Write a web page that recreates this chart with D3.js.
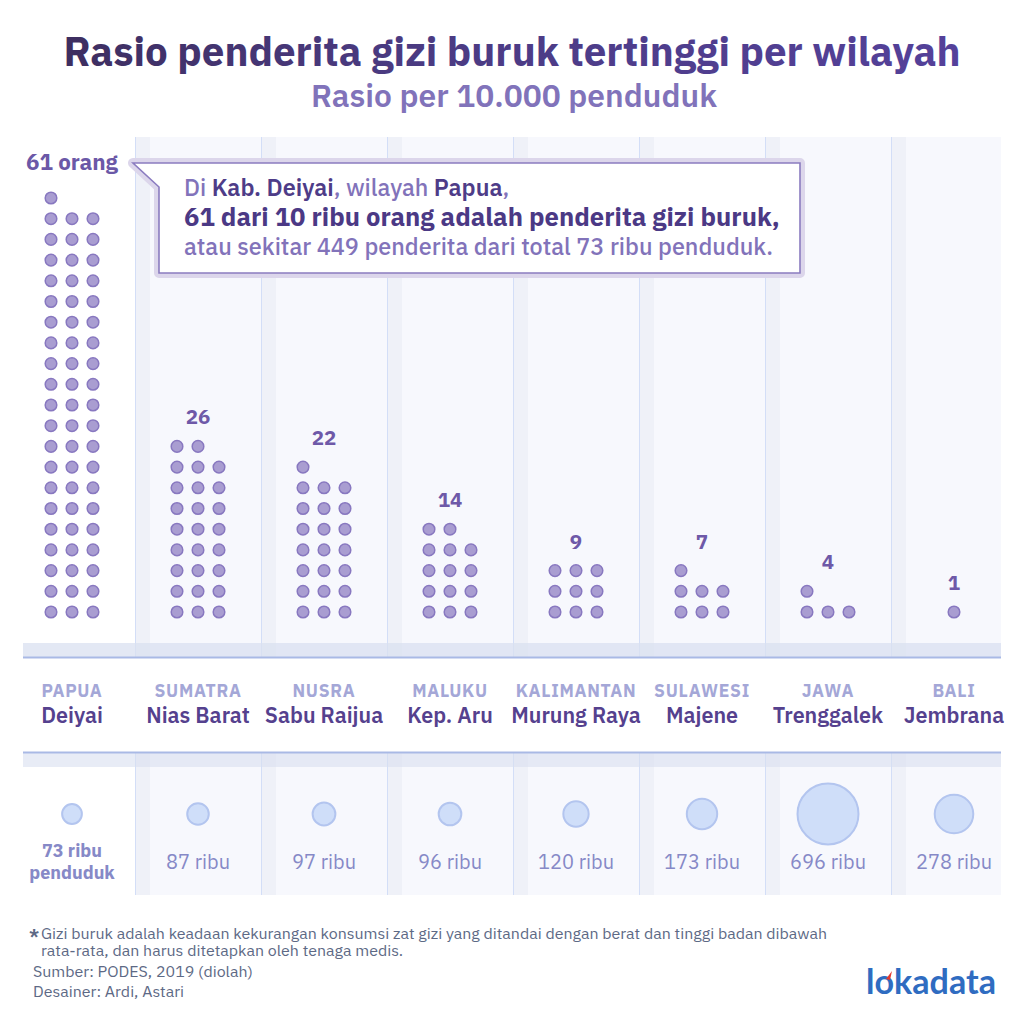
<!DOCTYPE html>
<html><head><meta charset="utf-8">
<script src="https://cdn.jsdelivr.net/npm/d3@7"></script>
<style>body{margin:0;background:#fff}svg{display:block}</style>
</head><body>
<svg id="chart" width="1025" height="1025"></svg>
<script>
// ---- data ----
const regions   = ["PAPUA","SUMATRA","NUSRA","MALUKU","KALIMANTAN","SULAWESI","JAWA","BALI"];
const districts = ["Deiyai","Nias Barat","Sabu Raijua","Kep. Aru","Murung Raya","Majene","Trenggalek","Jembrana"];
const ratioPer10k = [61,26,22,14,9,7,4,1];
const populationRibu = [73,87,97,96,120,173,696,278];
const popLabels = ["73 ribu","87 ribu","97 ribu","96 ribu","120 ribu","173 ribu","696 ribu","278 ribu"];
const titleText = "Rasio penderita gizi buruk tertinggi per wilayah";
const subtitleText = "Rasio per 10.000 penduduk";
const calloutLine1 = [["Di ","l"],["Kab. Deiyai","d"],[", wilayah ","l"],["Papua","d"],[",","l"]];
const calloutLine2 = "61 dari 10 ribu orang adalah penderita gizi buruk,";
const calloutLine3 = "atau sekitar 449 penderita dari total 73 ribu penduduk.";
const footnote = ["Gizi buruk adalah keadaan kekurangan konsumsi zat gizi yang ditandai dengan berat dan tinggi badan dibawah",
                  "rata-rata, dan harus ditetapkan oleh tenaga medis."];
const credits = ["Sumber: PODES, 2019 (diolah)","Desainer: Ardi, Astari"];

const FONT = "'IBM Plex Sans', Roboto, 'Noto Sans', sans-serif";
const svg = d3.select("#chart").style("font-family", FONT);

function fit(sel, w){
  const cur = sel.node().getComputedTextLength();
  const fs = parseFloat(sel.attr("font-size"));
  sel.attr("font-size", (fs*w/cur).toFixed(2));
  return fs*w/cur;
}

// ---- scales ----
const x = d3.scaleBand().domain(districts).range([9, 1017]).padding(0);
const cx = d => x(d) + x.bandwidth()/2;
const dotCol = d3.scaleLinear().domain([0,2]).range([-21,21]);
const yRow = d3.scaleLinear().domain([0,20]).range([612,198]);
const rBubble = d3.scaleSqrt().domain([0, d3.max(populationRibu)]).range([0, 30.5]);
const PANEL_R = 1001;

// ---- title ----
const defs = svg.append("defs");
const grad = defs.append("linearGradient").attr("id","tg").attr("x1","0").attr("x2","1");
grad.append("stop").attr("offset","0").attr("stop-color","#3d2e60");
grad.append("stop").attr("offset","0.35").attr("stop-color","#4a3a80");
grad.append("stop").attr("offset","1").attr("stop-color","#54419a");
const t = svg.append("text").attr("x",512).attr("y",66).attr("text-anchor","middle")
  .attr("font-size",36).attr("font-weight",700).attr("fill","url(#tg)").text(titleText);
fit(t, 897);
const st = svg.append("text").attr("x",514).attr("y",107).attr("text-anchor","middle")
  .attr("font-size",27).attr("font-weight",600).attr("fill","#8173ba").text(subtitleText);
fit(st, 406);

// ---- panels ----
function panel(y0, y1){
  const g = svg.append("g");
  districts.forEach((d,i) => {
    if(i===0) return;
    const x0 = x(d), x1 = Math.min(x0 + x.bandwidth(), PANEL_R);
    g.append("rect").attr("x",x0).attr("y",y0).attr("width",x1-x0).attr("height",y1-y0).attr("fill","#f7f8fd");
    g.append("rect").attr("x",x0).attr("y",y0).attr("width",15).attr("height",y1-y0).attr("fill","#eff1f8");
    g.append("line").attr("x1",x0+0.5).attr("x2",x0+0.5).attr("y1",y0).attr("y2",y1).attr("stroke","#d3def7").attr("stroke-width",1);
  });
  return g;
}
panel(137, 658);
panel(752, 895);
svg.append("rect").attr("x",23).attr("y",643).attr("width",PANEL_R-23).attr("height",14).attr("fill","#d9e0f0").attr("opacity",0.75);
svg.append("line").attr("x1",23).attr("x2",PANEL_R).attr("y1",657.5).attr("y2",657.5).attr("stroke","#a9b9e5").attr("stroke-width",2);
svg.append("rect").attr("x",23).attr("y",753).attr("width",PANEL_R-23).attr("height",14).attr("fill","#d9e0f0").attr("opacity",0.6);
svg.append("line").attr("x1",23).attr("x2",PANEL_R).attr("y1",752.5).attr("y2",752.5).attr("stroke","#a9b9e5").attr("stroke-width",2);

// ---- dots ----
const dots = [];
ratioPer10k.forEach((n,i) => {
  const d = districts[i];
  if(n < 3){
    for(let k=0;k<n;k++) dots.push({x: cx(d) + (k-(n-1)/2)*21, y: yRow(0)});
  } else {
    for(let k=0;k<n;k++){
      const row = Math.floor(k/3), col = k%3;
      dots.push({x: cx(d) + dotCol(col), y: yRow(row)});
    }
  }
});
svg.append("g").selectAll("circle").data(dots).join("circle")
  .attr("cx", d=>d.x).attr("cy", d=>d.y).attr("r",5.8)
  .attr("fill","#a99dd1").attr("stroke","#8878c0").attr("stroke-width",1.5);

ratioPer10k.forEach((n,i) => {
  if(i===0) return;
  const top = yRow(Math.ceil(n/3)-1);
  svg.append("text").attr("x",cx(districts[i])).attr("y",top-22).attr("text-anchor","middle")
    .attr("font-size",20.5).attr("font-weight",700).attr("fill","#6e59a8").text(n);
});
const lab61 = svg.append("text").attr("x",26).attr("y",170).attr("font-size",20).attr("font-weight",700)
  .attr("fill","#6b58a7").text(ratioPer10k[0] + " orang");
fit(lab61, 92);

// ---- callout ----
const cp = "M133,163 H800 V273 H159 V187 Z";
svg.append("path").attr("d",cp).attr("fill","#dcd6eb").attr("stroke","#dcd6eb").attr("stroke-width",10).attr("stroke-linejoin","round");
svg.append("path").attr("d",cp).attr("fill","#fff").attr("stroke","#8b7cc0").attr("stroke-width",1.6);
const l1 = svg.append("text").attr("x",184).attr("y",196).attr("font-size",19);
calloutLine1.forEach(([s,k]) => l1.append("tspan").text(s)
  .attr("fill", k==="d" ? "#4e3c88" : "#8273ba").attr("font-weight", k==="d" ? 600 : 500));
const l2 = svg.append("text").attr("x",184).attr("y",226).attr("font-size",21).attr("font-weight",700)
  .attr("fill","#4b3985").text(calloutLine2);
fit(l2, 596);
const l3 = svg.append("text").attr("x",184).attr("y",255).attr("font-size",19).attr("font-weight",500)
  .attr("fill","#8273ba").text(calloutLine3);
const f3 = fit(l3, 589);
l1.attr("font-size", f3.toFixed(2));

// ---- category labels ----
districts.forEach((d,i) => {
  svg.append("text").attr("x",cx(d)).attr("y",697).attr("text-anchor","middle")
    .attr("font-size",17.5).attr("font-weight",700).attr("fill","#a4a7d7").attr("letter-spacing",0.7).text(regions[i]);
  svg.append("text").attr("x",cx(d)).attr("y",723).attr("text-anchor","middle")
    .attr("font-size",21.5).attr("font-weight",600).attr("fill","#55418e").text(d);
});

// ---- population bubbles ----
svg.append("g").selectAll("circle").data(populationRibu).join("circle")
  .attr("cx",(v,i)=>cx(districts[i])).attr("cy",814).attr("r",v=>rBubble(v))
  .attr("fill","#cfdef9").attr("stroke","#b3c5ef").attr("stroke-width",2);
popLabels.forEach((s,i) => {
  if(i===0){
    svg.append("text").attr("x",cx(districts[i])).attr("y",857).attr("text-anchor","middle")
      .attr("font-size",18).attr("font-weight",700).attr("fill","#8689c7").text(s);
    svg.append("text").attr("x",cx(districts[i])).attr("y",879).attr("text-anchor","middle")
      .attr("font-size",18).attr("font-weight",700).attr("fill","#8689c7").text("penduduk");
  } else {
    svg.append("text").attr("x",cx(districts[i])).attr("y",869).attr("text-anchor","middle")
      .attr("font-size",20).attr("font-weight",400).attr("fill","#8689c7").text(s);
  }
});

// ---- footer ----
const FS = 14;
svg.append("text").attr("x",29).attr("y",941).attr("font-size",17).attr("font-weight",700).attr("fill","#5d6985").text("*");
const fn1 = svg.append("text").attr("x",41).attr("y",939).attr("font-size",FS).attr("fill","#5d6985").text(footnote[0]);
const sc = 786 / fn1.node().getComputedTextLength();
function squeeze(sel){ const w = sel.node().getComputedTextLength(); sel.attr("textLength",(w*sc).toFixed(1)).attr("lengthAdjust","spacingAndGlyphs"); }
squeeze(fn1);
squeeze(svg.append("text").attr("x",41).attr("y",956).attr("font-size",FS).attr("fill","#5d6985").text(footnote[1]));
squeeze(svg.append("text").attr("x",33).attr("y",977).attr("font-size",FS).attr("fill","#5d6985").text(credits[0]));
squeeze(svg.append("text").attr("x",33).attr("y",997).attr("font-size",FS).attr("fill","#5d6985").text(credits[1]));

// ---- logo ----
const logo = svg.append("text").attr("x",866).attr("y",994).attr("font-size",30)
  .attr("font-family","Lato, 'Open Sans', sans-serif").attr("font-weight",700).attr("fill","#2f6cc1").text("lokadata");
fit(logo, 130);
svg.append("path").attr("d","M886,979 L892,971 L890,980 Z").attr("fill","#e53a2f");
</script>
</body></html>
